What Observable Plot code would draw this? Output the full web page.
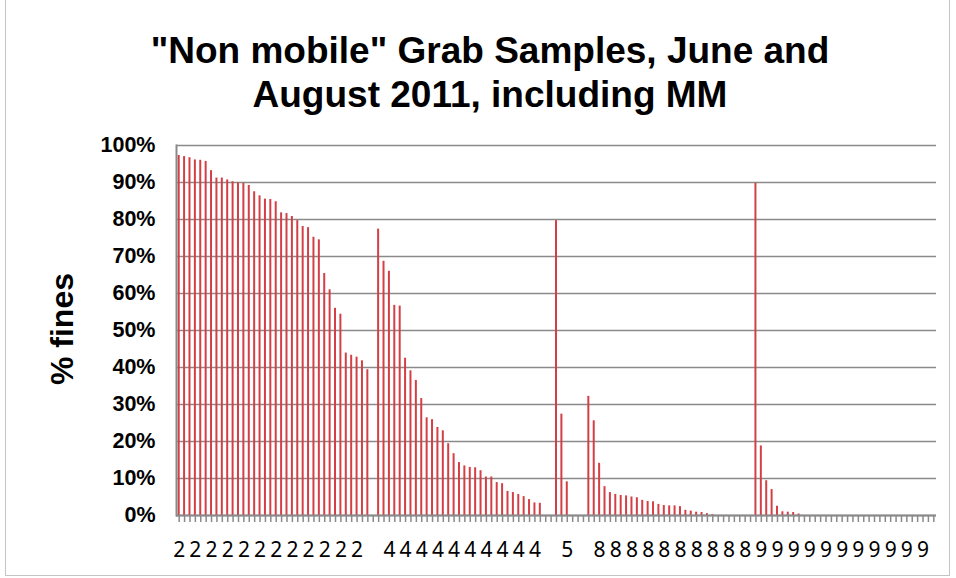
<!DOCTYPE html>
<html><head><meta charset="utf-8">
<script src="https://cdn.jsdelivr.net/npm/d3@7"></script>
<script src="https://cdn.jsdelivr.net/npm/@observablehq/plot@0.6"></script>
<style>
body{margin:0;background:#fff;}
#wrap{position:relative;width:956px;height:578px;overflow:hidden;background:#fff;font-family:"Liberation Sans",Arial,sans-serif;}
#title{position:absolute;left:0;width:980px;top:29px;text-align:center;font-weight:bold;font-size:37px;line-height:44px;color:#000;}
#ylab{position:absolute;left:62px;top:329px;transform:translate(-50%,-50%) rotate(-90deg);font-weight:bold;font-size:32px;white-space:nowrap;color:#000;}
#border{position:absolute;left:5px;top:-2px;width:945px;height:578px;border:1px solid #c4c4c4;box-sizing:border-box;pointer-events:none;}
#chart{position:absolute;left:0;top:0;}
</style></head>
<body>
<div id="wrap">
  <div id="chart"></div>
  <div id="title">"Non mobile" Grab Samples, June and<br>August 2011, including MM</div>
  <div id="ylab">% fines</div>
  <div id="border"></div>
</div>
<script>
// Category code for each group of samples, and % fines per sample
const group2 = [97.3,97.0,96.7,96.1,96.0,95.7,93.2,91.2,91.2,90.7,90.2,89.9,89.8,89.2,87.5,86.4,85.5,85.4,84.8,81.8,81.6,80.8,79.7,78.1,77.8,75.2,74.5,65.4,61.0,56.0,54.4,43.9,43.3,42.8,41.8,39.4];
const group4 = [77.4,68.7,66.0,56.8,56.6,42.5,39.1,36.5,31.6,26.4,25.9,23.8,22.9,19.4,16.7,14.3,13.4,13.0,12.9,12.1,10.4,10.4,8.9,8.6,6.5,6.2,5.7,5.1,4.3,3.4,3.3];
const group5 = [79.7,27.4,9.1];
const group8 = [32.2,25.6,14.1,7.8,6.2,5.7,5.4,5.3,5.0,4.8,4.1,3.8,3.7,3.0,2.7,2.6,2.6,2.4,1.4,1.2,0.9,0.8,0.5,0.2,0,0,0,0,0,0,0];
const group9 = [89.8,18.8,9.4,7.0,2.5,1.0,0.9,0.8,0.4,0,0,0,0,0,0,0,0,0,0,0,0,0,0,0,0,0,0,0,0,0,0,0,0,0];
// blank categories between groups
const blank1 = [null];
const blank2 = [null,null];
const blank3 = [null,null,null];
const segments = [["2",group2],["",blank1],["4",group4],["",blank2],["5",group5],["",blank3],["8",group8],["9",group9]];
const yTicks = [0,0.1,0.2,0.3,0.4,0.5,0.6,0.7,0.8,0.9,1.0];
const labelEvery = 3;

const data = [];
for (const [code, vals] of segments) for (const v of vals) data.push({i: data.length, code, v: v == null ? null : v/100});
const codes = data.map(d => d.code);

const chart = Plot.plot({
  width: 956, height: 578,
  marginLeft: 176, marginRight: 20, marginTop: 145, marginBottom: 63,
  style: {background: "transparent", color: "#000", fontFamily: "Liberation Sans, Arial, sans-serif"},
  x: {type: "band", domain: data.map(d => d.i), padding: 0},
  y: {domain: [0, 1]},
  marks: [
    Plot.gridY(yTicks, {stroke: "#8a8a8a", strokeOpacity: 1, strokeWidth: 1.6}),
    Plot.barY(data.filter(d => d.v != null && d.v > 0), {x: "i", y: "v", fill: "#d33f45", insetLeft: 1.7, insetRight: 1.7}),
    Plot.ruleY([0], {stroke: "#8a8a8a", strokeWidth: 2}),
    Plot.frame({anchor: "left", stroke: "#8a8a8a", strokeWidth: 2}),
    Plot.axisY({ticks: yTicks, tickFormat: d3.format(".0%"), tickSize: 0, tickPadding: 21, fontSize: 21.5, fontWeight: "bold", label: null}),
    Plot.axisX({tickSize: 7, stroke: "#8a8a8a", strokeWidth: 1.5, tickPadding: 20, fontSize: 21,
      fontFamily: "Noto Sans, sans-serif", fill: "#000", label: null,
      tickFormat: i => (i % labelEvery === 0 ? codes[i] : "")})
  ]
});
document.getElementById("chart").appendChild(chart);
</script>
</body></html>
